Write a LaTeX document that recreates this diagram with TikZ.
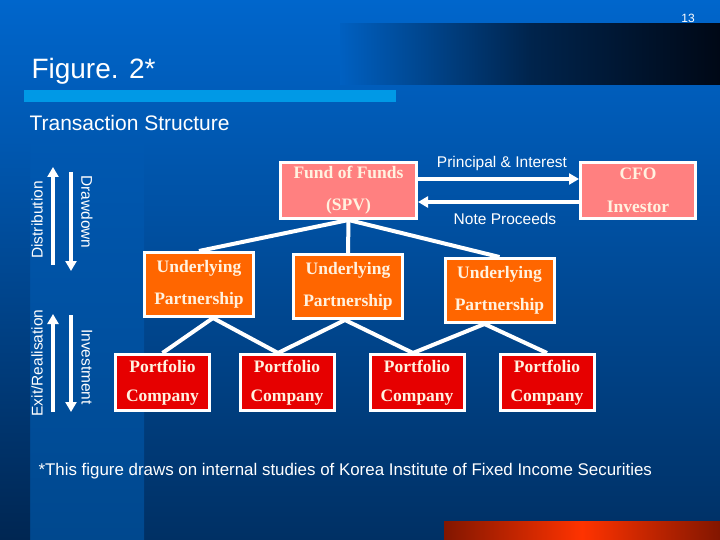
\documentclass[tikz,border=0pt]{standalone}
\usepackage{fontspec}
\setmainfont{Liberation Serif}
\setsansfont{Liberation Sans}
\usetikzlibrary{arrows.meta}
\definecolor{slideblue}{RGB}{0,102,204}
\definecolor{slidedeep}{RGB}{0,48,100}
\definecolor{midblue}{RGB}{0,88,177}
\definecolor{bandblue}{RGB}{0,96,193}
\definecolor{colblue}{RGB}{0,72,142}
\definecolor{stripblue}{RGB}{0,38,82}
\definecolor{barblue}{RGB}{0,153,230}
\definecolor{nightblue}{RGB}{0,8,22}
\definecolor{fofpink}{RGB}{255,128,128}
\definecolor{uporange}{RGB}{255,102,0}
\definecolor{pcred}{RGB}{230,0,0}
\definecolor{cream}{RGB}{255,242,224}
\definecolor{rust}{RGB}{130,22,0}
\definecolor{flame}{RGB}{255,51,0}
\begin{document}
\begin{tikzpicture}[x=1pt,y=-1pt,
  box/.style={draw=white,line width=3pt,text=cream,align=center,inner sep=0pt},
  fofbox/.style={box,fill=fofpink,minimum width=136pt,minimum height=56pt,font=\bfseries\fontsize{17.5}{32}\selectfont},
  cfobox/.style={box,fill=fofpink,minimum width=115pt,minimum height=56pt,font=\bfseries\fontsize{17.5}{33}\selectfont},
  upbox/.style={box,fill=uporange,minimum width=109pt,minimum height=64pt,font=\bfseries\fontsize{17.5}{32}\selectfont},
  pcbox/.style={box,fill=pcred,minimum width=94pt,minimum height=56pt,font=\bfseries\fontsize{17.5}{29}\selectfont},
  link/.style={white,line width=4pt},
  flow/.style={white,line width=4pt,-{Triangle[width=11pt,length=10pt]}},
  lbl/.style={white,font=\sffamily\fontsize{15.5}{18}\selectfont}]
\useasboundingbox (0,0) rectangle (720,540);
\shade[top color=slideblue,bottom color=slidedeep] (0,0) rectangle (720,540);
\shade[top color=midblue,bottom color=colblue] (30,140) rectangle (144,540);
\shade[top color=midblue,bottom color=stripblue] (0,140) rectangle (30,540);
\shade[left color=bandblue,right color=nightblue,middle color=slidedeep!70!nightblue] (340,24) rectangle (720,85);
\fill[barblue] (24,90) rectangle (396,102);
\shade[left color=rust,right color=rust,middle color=flame] (444,521) rectangle (720,540);

\node[white,font=\sffamily\fontsize{12}{14}\selectfont] (pagenum) at (688,18) {13};
\node[white,anchor=west,font=\sffamily\fontsize{28}{32}\selectfont] (title) at (28,71) {Figure. 2*};
\node[white,anchor=west,font=\sffamily\fontsize{21}{24}\selectfont] (subtitle) at (26,123) {Transaction Structure};

\node[fofbox] (fof) at (348.5,190.5) {Fund of Funds\\(SPV)};
\node[cfobox] (cfo) at (638,190.5) {CFO\\Investor};
\node[upbox] (up1) at (199,284.5) {Underlying\\Partnership};
\node[upbox] (up2) at (348,286.5) {Underlying\\Partnership};
\node[upbox] (up3) at (499.5,290.5) {Underlying\\Partnership};
\foreach \i/\x in {1/162.5,2/287,3/417,4/547} {
  \node[pcbox] (pc\i) at (\x,382.5) {Portfolio\\Company};
}

\draw[flow] ([yshift=11.5pt]fof.east) -- ([yshift=11.5pt]cfo.west);
\draw[flow] ([yshift=-11.5pt]cfo.west) -- ([yshift=-11.5pt]fof.east);
\node[lbl] (pi) at (502,163) {Principal \& Interest};
\node[lbl] (np) at (505,219) {Note Proceeds};

\foreach \u in {up1,up2,up3} {
  \draw[link] (fof.south) -- (\u.north);
}
\draw[link] (pc1.north) -- ([xshift=14pt]up1.south) -- ([xshift=-9pt]pc2.north);
\draw[link] ([xshift=-9pt]pc2.north) -- ([xshift=-3pt]up2.south) -- ([xshift=-4pt]pc3.north);
\draw[link] ([xshift=-4pt]pc3.north) -- ([xshift=-15pt]up3.south) -- (pc4.north);

\coordinate (distlo) at (53,265);
\coordinate (disthi) at (53,167);
\coordinate (drawhi) at (71,172);
\coordinate (drawlo) at (71,271);
\coordinate (exitlo) at (53,412);
\coordinate (exithi) at (53,314);
\coordinate (invhi) at (71,315);
\coordinate (invlo) at (71,412);
\draw[flow] (distlo) -- (disthi);
\draw[flow] (drawhi) -- (drawlo);
\draw[flow] (exitlo) -- (exithi);
\draw[flow] (invhi) -- (invlo);
\node[lbl,rotate=90] (dist) at (37,220) {Distribution};
\node[lbl,rotate=-90] (draw) at (87,212) {Drawdown};
\node[lbl,rotate=90] (exit) at (37,363) {Exit/Realisation};
\node[lbl,rotate=-90] (inv) at (87,367) {Investment};

\node[white,anchor=west,font=\sffamily\fontsize{16.9}{19}\selectfont] (note) at (35,471) {*This figure draws on internal studies of Korea Institute of Fixed Income Securities};
\end{tikzpicture}
\end{document}
